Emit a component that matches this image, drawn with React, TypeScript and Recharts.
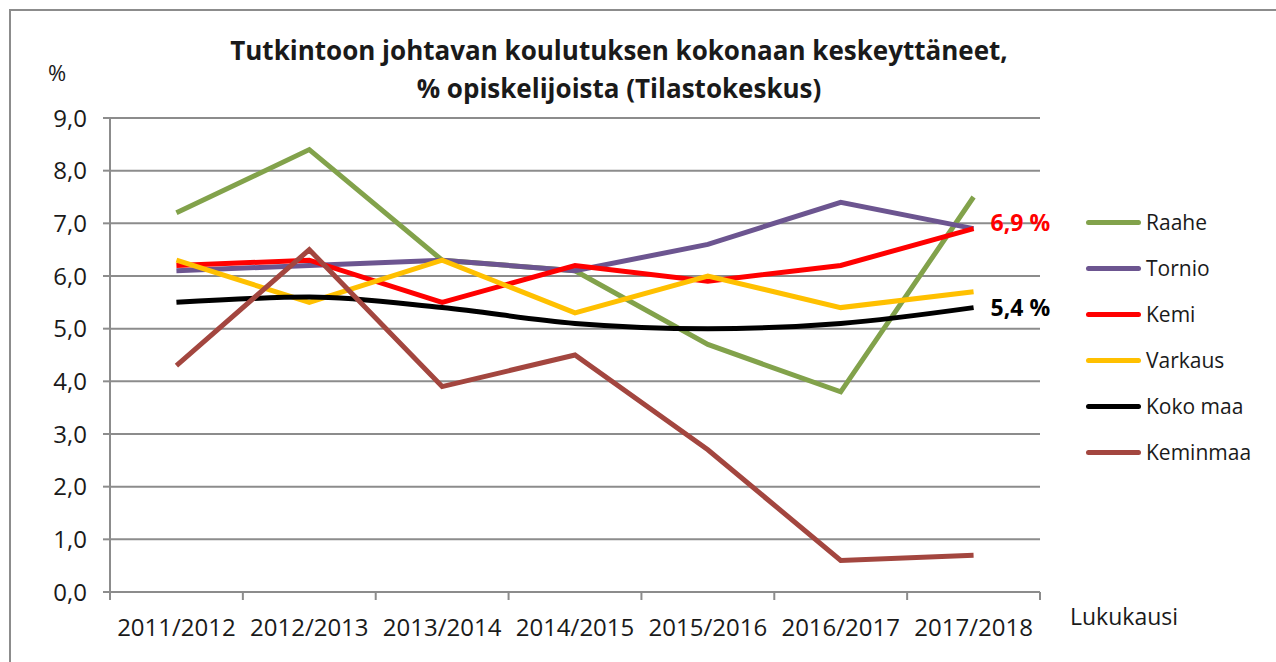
import React from 'react';
import { LineChart, Line, XAxis, YAxis, CartesianGrid, Legend, LabelList } from 'recharts';

const years = ['2011/2012', '2012/2013', '2013/2014', '2014/2015', '2015/2016', '2016/2017', '2017/2018'];
const raahe = [7.2, 8.4, 6.3, 6.1, 4.7, 3.8, 7.5];
const tornio = [6.1, 6.2, 6.3, 6.1, 6.6, 7.4, 6.9];
const kemi = [6.2, 6.3, 5.5, 6.2, 5.9, 6.2, 6.9];
const varkaus = [6.3, 5.5, 6.3, 5.3, 6.0, 5.4, 5.7];
const kokoMaa = [5.5, 5.6, 5.4, 5.1, 5.0, 5.1, 5.4];
const keminmaa = [4.3, 6.5, 3.9, 4.5, 2.7, 0.6, 0.7];
const yTicks = [0, 1, 2, 3, 4, 5, 6, 7, 8, 9];

const series = [
  { key: 'Raahe', values: raahe, color: '#82a24b' },
  { key: 'Tornio', values: tornio, color: '#6c5590' },
  { key: 'Kemi', values: kemi, color: '#ff0000' },
  { key: 'Varkaus', values: varkaus, color: '#ffc000' },
  { key: 'Koko maa', values: kokoMaa, color: '#000000' },
  { key: 'Keminmaa', values: keminmaa, color: '#a3463f' },
];

const data = years.map((y, i) => {
  const row: Record<string, string | number> = { year: y };
  series.forEach((s) => (row[s.key] = s.values[i]));
  return row;
});

const FONT = '"Open Sans", sans-serif';
const GRID = '#8c8c8c';
const W = 1276;
const H = 662;
const PLOT_LEFT = 110;
const PLOT_RIGHT = 1040;
const BAND = (PLOT_RIGHT - PLOT_LEFT) / years.length;

const fmt = (v: number) => v.toFixed(1).replace('.', ',');

const XTick = (props: any) => {
  const { x, y, payload, index } = props;
  const left = x - BAND / 2;
  return (
    <g>
      <line x1={left} x2={left} y1={y - 8} y2={y} stroke={GRID} strokeWidth={2} />
      {index === years.length - 1 && (
        <line x1={x + BAND / 2} x2={x + BAND / 2} y1={y - 8} y2={y} stroke={GRID} strokeWidth={2} />
      )}
      <text x={x} y={y + 36} textAnchor="middle" fontSize={24} fontFamily={FONT} fill="#1a1a1a">
        {payload.value}
      </text>
    </g>
  );
};

// value label at the end of a line (only the last point)
const endLabel = (color: string, dy: number) => (props: any) => {
  const { x, y, index, value } = props;
  if (index !== years.length - 1) return null;
  return (
    <text x={x + 17} y={y + dy} fontSize={23} fontWeight="bold" fontFamily={FONT} fill={color}>
      {fmt(value)} %
    </text>
  );
};

const LegendBox = () => (
  <div style={{ fontFamily: FONT, fontSize: 21, color: '#1a1a1a' }}>
    {series.map((s) => (
      <div key={s.key} style={{ display: 'flex', alignItems: 'center', height: 46 }}>
        <div style={{ width: 55, height: 5, borderRadius: 3, background: s.color, marginRight: 5 }} />
        <span>{s.key}</span>
      </div>
    ))}
  </div>
);

export default function App() {
  return (
    <div style={{ position: 'absolute', left: 0, top: 0, width: W, height: H, overflow: 'hidden', background: '#fff' }}>
      <div
        style={{
          position: 'absolute',
          left: 9,
          top: 9,
          width: W + 50,
          height: H + 50,
          border: `2px solid ${GRID}`,
        }}
      />
      <div
        style={{
          position: 'absolute',
          left: 0,
          width: W,
          top: 31,
          textAlign: 'center',
          fontFamily: FONT,
          fontWeight: 'bold',
          fontSize: 26,
          lineHeight: '38px',
          color: '#1a1a1a',
        }}
      >
        <div style={{ marginLeft: -38 }}>Tutkintoon johtavan koulutuksen kokonaan keskeyttäneet,</div>
        <div style={{ marginLeft: -38 }}>% opiskelijoista (Tilastokeskus)</div>
      </div>
      <div style={{ position: 'absolute', left: 48, top: 57, fontFamily: FONT, fontSize: 22, color: '#1a1a1a' }}>%</div>
      <div style={{ position: 'absolute', left: 1070, top: 600, fontFamily: FONT, fontSize: 23, color: '#1a1a1a' }}>
        Lukukausi
      </div>
      <div style={{ position: 'absolute', left: 0, top: 0 }}>
        <LineChart width={W} height={H} data={data} margin={{ top: 118, right: W - PLOT_RIGHT, bottom: 30, left: 50 }}>
          <CartesianGrid vertical={false} stroke={GRID} strokeWidth={2} />
          <XAxis
            dataKey="year"
            scale="band"
            height={40}
            axisLine={{ stroke: GRID, strokeWidth: 2 }}
            tickLine={false}
            tick={<XTick />}
            interval={0}
          />
          <YAxis
            width={60}
            domain={[0, 9]}
            ticks={yTicks}
            tickFormatter={fmt}
            axisLine={{ stroke: GRID, strokeWidth: 2 }}
            tickLine={{ stroke: GRID, strokeWidth: 2 }}
            tickSize={7}
            tickMargin={16}
            tick={{ fontSize: 24, fontFamily: FONT, fill: '#1a1a1a' }}
          />
          <Legend
            layout="vertical"
            verticalAlign="middle"
            align="center"
            content={<LegendBox />}
            wrapperStyle={{ position: 'absolute', left: 1086, top: 199, width: 180 }}
          />
          {series.map((s) => (
            <Line
              key={s.key}
              dataKey={s.key}
              stroke={s.color}
              strokeWidth={5}
              dot={false}
              activeDot={false}
              type={s.key === 'Koko maa' ? 'monotone' : 'linear'}
              isAnimationActive={false}
            >
              {s.key === 'Kemi' && <LabelList dataKey={s.key} content={endLabel('#ff0000', 2)} />}
              {s.key === 'Koko maa' && <LabelList dataKey={s.key} content={endLabel('#000000', 8)} />}
            </Line>
          ))}
        </LineChart>
      </div>
    </div>
  );
}
